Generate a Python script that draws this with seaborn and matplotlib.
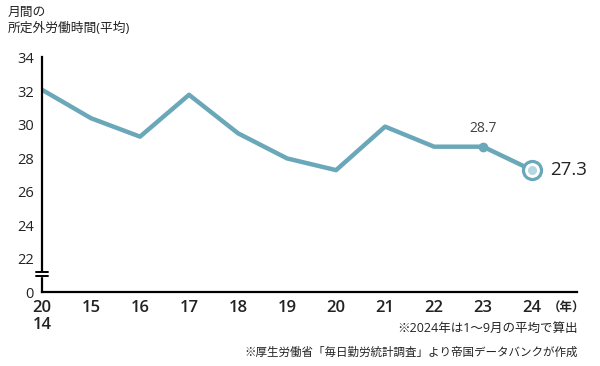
import matplotlib
matplotlib.use("Agg")
import matplotlib.pyplot as plt
import seaborn as sns
import pandas as pd

# data
years = [2014, 2015, 2016, 2017, 2018, 2019, 2020, 2021, 2022, 2023, 2024]
hours = [32.1, 30.4, 29.3, 31.8, 29.5, 28.0, 27.3, 29.9, 28.7, 28.7, 27.3]
xlabels = ["20\n14", "15", "16", "17", "18", "19", "20", "21", "22", "23", "24"]
ytick_vals = [22, 24, 26, 28, 30, 32, 34]

LINE = "#6aa8b9"
INNER = "#b4d7e1"
TXT = "#222222"
Y0 = 20.02  # position of the "0" tick below the axis break

df = pd.DataFrame({"pos": range(len(years)), "hours": hours})

sns.set_theme(style="white")
plt.rcParams["font.family"] = ["Open Sans", "Noto Sans CJK JP", "DejaVu Sans"]

fig = plt.figure(figsize=(6, 3.66), dpi=100)
ax = fig.add_axes([0.07, 0.202, 0.892, 0.642])

sns.lineplot(data=df, x="pos", y="hours", color=LINE, linewidth=3.2, ax=ax,
             solid_capstyle="round")

# dot at 2023, ring marker at 2024
ax.plot(df["pos"].iloc[9], df["hours"].iloc[9], "o", color=LINE, markersize=6)
ax.plot(df["pos"].iloc[10], df["hours"].iloc[10], "o", markersize=13,
        markerfacecolor="white", markeredgecolor=LINE, markeredgewidth=2.3)
ax.plot(df["pos"].iloc[10], df["hours"].iloc[10], "o", markersize=5.5,
        markerfacecolor=INNER, markeredgecolor=INNER)

ax.annotate(f"{hours[9]}", (9, hours[9]), xytext=(0, 8), textcoords="offset points",
            ha="center", va="bottom", fontsize=10, color="#444444")
ax.annotate(f"{hours[10]}", (10, hours[10]), xytext=(13, 0), textcoords="offset points",
            ha="left", va="center", fontsize=13.5, color=TXT)

ax.set_xlim(0, 10.92)
ax.set_ylim(Y0, 34.05)
ax.set_xticks(range(len(years)))
ax.set_xticklabels(xlabels, fontsize=12, color=TXT, linespacing=1.05,
                   fontweight="semibold")
ax.set_yticks([Y0] + ytick_vals)
ax.set_yticklabels(["0"] + [str(v) for v in ytick_vals], fontsize=10.5, color=TXT)
ax.tick_params(axis="y", direction="in", length=4, width=1, color="black", pad=6)
ax.tick_params(axis="x", length=0, pad=6)
ax.set_xlabel("")
ax.set_ylabel("")

for s in ["top", "right"]:
    ax.spines[s].set_visible(False)
for s in ["left", "bottom"]:
    ax.spines[s].set_color("black")
    ax.spines[s].set_linewidth(1.6)

# axis break marks on the y axis
ax.fill_between([-0.2, 0.2], 20.95, 21.2, color="white", zorder=3, clip_on=False)
for yb in [20.95, 21.2]:
    ax.plot([-0.12, 0.12], [yb, yb], color="black", lw=1.4, clip_on=False, zorder=4)

fig.text(0.013, 0.985, "月間の\n所定外労働時間(平均)", fontsize=9.2, color=TXT,
         ha="left", va="top", linespacing=1.3)
fig.text(0.913, 0.158, "（年）", fontsize=9, color=TXT, ha="left", va="center",
         fontweight="bold")
fig.text(0.963, 0.102, "※2024年は1～9月の平均で算出", fontsize=9, color=TXT,
         ha="right", va="center")
fig.text(0.963, 0.037, "※厚生労働省「毎日勤労統計調査」より帝国データバンクが作成",
         fontsize=8.3, color=TXT, ha="right", va="center")

fig.savefig("out.png", dpi=100, facecolor="white")
